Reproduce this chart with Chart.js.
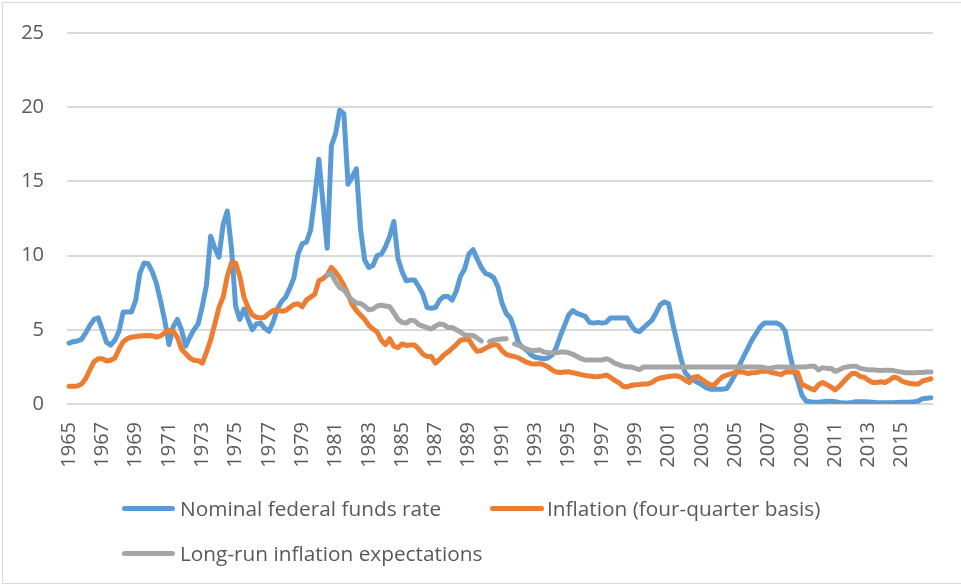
<!DOCTYPE html>
<html>
<head>
<meta charset="utf-8">
<script src="https://cdn.jsdelivr.net/npm/chart.js@4"></script>
<style>
  html, body { margin: 0; padding: 0; background: #fff; }
  #wrap { position: relative; width: 961px; height: 588px; overflow: hidden; font-family: "Open Sans", sans-serif; }
  #frame { position: absolute; left: 2px; top: 2px; width: 980px; height: 582px; border: 1.5px solid #d9d9d9; box-sizing: border-box; pointer-events: none; }
  canvas { position: absolute; left: 0; top: 0; }
  .lg { position: absolute; height: 28px; line-height: 28px; font-size: 20.8px; color: #595959; white-space: nowrap; }
  .sw { position: absolute; height: 5px; border-radius: 3px; }
</style>
</head>
<body>
<div id="wrap">
  <canvas id="c" width="961" height="588"></canvas>
  <div id="frame"></div>
</div>
<script>
const firstYear = 1965;
const lastYear = 2016;
const tickLabels = ['1965','1967','1969','1971','1973','1975','1977','1979','1981','1983','1985','1987','1989',
  '1991','1993','1995','1997','1999','2001','2003','2005','2007','2009','2011','2013','2015'];
const seriesNames = ['Nominal federal funds rate', 'Inflation (four-quarter basis)', 'Long-run inflation expectations'];
const seriesColors = ['#5b9bd5', '#ed7d31', '#a5a5a5'];

const fedFunds = [
  4.1, 4.2, 4.25, 4.35, 4.8, 5.3, 5.7, 5.8, 5.0, 4.15,
  3.97, 4.3, 4.9, 6.2, 6.2, 6.2, 7.0, 8.8, 9.5, 9.45,
  8.9, 8.1, 6.9, 5.6, 4.0, 5.2, 5.7, 5.0, 3.9, 4.5,
  5.0, 5.4, 6.6, 8.0, 11.3, 10.5, 9.9, 12.1, 13.0, 10.5,
  6.6, 5.7, 6.4, 5.7, 5.0, 5.4, 5.45, 5.1, 4.9, 5.5,
  6.4, 6.9, 7.2, 7.8, 8.5, 10.1, 10.8, 10.9, 11.7, 13.9,
  16.5, 13.5, 10.5, 17.4, 18.2, 19.8, 19.55, 14.8, 15.3, 15.85,
  11.8, 9.7, 9.2, 9.35, 10.0, 10.1, 10.6, 11.3, 12.3, 9.8,
  8.9, 8.3, 8.35, 8.35, 7.9, 7.4, 6.5, 6.45, 6.5, 7.0,
  7.25, 7.25, 7.0, 7.6, 8.6, 9.1, 10.1, 10.4, 9.8, 9.2,
  8.8, 8.7, 8.5, 7.9, 6.8, 6.1, 5.8, 5.0, 4.1, 3.8,
  3.6, 3.3, 3.15, 3.1, 3.05, 3.1, 3.3, 3.8, 4.6, 5.3,
  6.0, 6.3, 6.1, 6.0, 5.9, 5.5, 5.45, 5.5, 5.45, 5.5,
  5.8, 5.8, 5.8, 5.8, 5.8, 5.3, 4.95, 4.88, 5.15, 5.4,
  5.65, 6.15, 6.7, 6.88, 6.75, 5.4, 4.2, 3.0, 2.1, 1.8,
  1.6, 1.45, 1.3, 1.1, 1.0, 1.0, 1.0, 1.0, 1.05, 1.5,
  2.0, 2.6, 3.2, 3.75, 4.3, 4.75, 5.2, 5.45, 5.45, 5.45,
  5.45, 5.3, 4.9, 3.5, 2.3, 1.6, 0.6, 0.2, 0.15, 0.12,
  0.12, 0.15, 0.18, 0.18, 0.16, 0.1, 0.08, 0.07, 0.1, 0.15,
  0.15, 0.16, 0.14, 0.12, 0.09, 0.09, 0.08, 0.09, 0.09, 0.1,
  0.11, 0.12, 0.13, 0.16, 0.2, 0.36, 0.38, 0.42
];

const inflation = [
  1.2, 1.2, 1.22, 1.35, 1.7, 2.3, 2.85, 3.05, 3.05, 2.9,
  2.95, 3.1, 3.7, 4.2, 4.4, 4.5, 4.55, 4.58, 4.6, 4.62,
  4.6, 4.5, 4.6, 4.8, 4.95, 4.9, 4.5, 3.7, 3.4, 3.1,
  2.95, 2.92, 2.75, 3.5, 4.3, 5.4, 6.5, 7.2, 8.6, 9.5,
  9.5, 8.6, 7.2, 6.5, 6.0, 5.85, 5.8, 5.85, 6.1, 6.3,
  6.35, 6.25, 6.3, 6.5, 6.7, 6.75, 6.55, 7.0, 7.2, 7.4,
  8.3, 8.45, 8.7, 9.2, 8.9, 8.5, 8.0, 7.4, 6.7, 6.3,
  6.0, 5.7, 5.3, 5.05, 4.85, 4.3, 4.0, 4.4, 3.9, 3.8,
  4.05, 3.95, 3.97, 3.97, 3.7, 3.35, 3.2, 3.2, 2.75, 3.0,
  3.3, 3.5, 3.75, 4.0, 4.3, 4.35, 4.35, 3.9, 3.55, 3.6,
  3.75, 3.9, 4.0, 3.95, 3.6, 3.35, 3.25, 3.2, 3.1, 2.95,
  2.8, 2.72, 2.7, 2.72, 2.65, 2.5, 2.3, 2.15, 2.12, 2.15,
  2.17, 2.1, 2.05, 1.98, 1.92, 1.88, 1.85, 1.84, 1.88, 1.95,
  1.8, 1.6, 1.45, 1.2, 1.15, 1.25, 1.3, 1.32, 1.35, 1.35,
  1.45, 1.65, 1.75, 1.8, 1.86, 1.88, 1.9, 1.8, 1.6, 1.45,
  1.8, 1.85, 1.65, 1.45, 1.28, 1.3, 1.6, 1.85, 1.95, 2.05,
  2.12, 2.17, 2.15, 2.05, 2.1, 2.12, 2.18, 2.22, 2.2, 2.1,
  2.05, 1.98, 2.15, 2.15, 2.15, 2.12, 1.3, 1.2, 1.05, 0.95,
  1.3, 1.45, 1.3, 1.15, 0.95, 1.2, 1.5, 1.8, 2.05, 2.05,
  1.85, 1.8, 1.6, 1.45, 1.45, 1.5, 1.45, 1.6, 1.8, 1.75,
  1.55, 1.45, 1.38, 1.35, 1.35, 1.55, 1.62, 1.7
];

const expectations = [
  null, null, null, null, null, null, null, null, null, null,
  null, null, null, null, null, null, null, null, null, null,
  null, null, null, null, null, null, null, null, null, null,
  null, null, null, null, null, null, null, null, null, null,
  null, null, null, null, null, null, null, null, null, null,
  null, null, null, null, null, null, null, null, null, null,
  null, null, 8.7, 8.8, 8.25, 7.85, 7.7, 7.3, 7.0, 6.8,
  6.78, 6.6, 6.35, 6.4, 6.6, 6.65, 6.6, 6.55, 6.15, 5.7,
  5.5, 5.45, 5.65, 5.6, 5.35, 5.25, 5.15, 5.05, 5.25, 5.4,
  5.35, 5.15, 5.15, 5.0, 4.85, 4.65, 4.64, 4.62, 4.45, 4.25,
  null, 4.2, 4.3, 4.35, 4.38, 4.4, null, 4.05, 3.95, 3.8,
  3.7, 3.6, 3.6, 3.65, 3.5, 3.45, 3.45, 3.45, 3.5, 3.5,
  3.45, 3.35, 3.2, 3.05, 2.96, 2.96, 2.96, 2.96, 2.96, 3.05,
  2.95, 2.75, 2.65, 2.55, 2.5, 2.5, 2.4, 2.32, 2.5, 2.5,
  2.5, 2.5, 2.5, 2.5, 2.5, 2.5, 2.5, 2.5, 2.5, 2.5,
  2.5, 2.5, 2.5, 2.5, 2.5, 2.5, 2.5, 2.5, 2.5, 2.5,
  2.5, 2.5, 2.5, 2.5, 2.5, 2.5, 2.5, 2.45, 2.4, 2.45,
  2.5, 2.5, 2.5, 2.48, 2.48, 2.5, 2.5, 2.5, 2.55, 2.55,
  2.3, 2.45, 2.4, 2.4, 2.2, 2.3, 2.45, 2.5, 2.55, 2.55,
  2.4, 2.35, 2.3, 2.3, 2.28, 2.26, 2.28, 2.28, 2.25, 2.2,
  2.15, 2.1, 2.1, 2.1, 2.12, 2.12, 2.15, 2.15
];

// quarterly categories
const categories = [];
for (let y = firstYear; y <= lastYear; y++) {
  for (let q = 1; q <= 4; q++) categories.push(y + ' Q' + q);
}

const seriesData = [fedFunds, inflation, expectations];
const FONT = { family: '"Open Sans", sans-serif', size: 20 };

const chart = new Chart(document.getElementById('c'), {
  type: 'line',
  data: {
    labels: categories,
    datasets: seriesData.map((d, i) => ({
      label: seriesNames[i],
      data: d,
      borderColor: seriesColors[i],
      backgroundColor: seriesColors[i],
      borderWidth: 5,
      pointRadius: 0,
      pointHoverRadius: 0,
      tension: 0,
      spanGaps: false,
      borderCapStyle: 'round',
      borderJoinStyle: 'round',
      order: 3 - i,
      fill: false
    }))
  },
  options: {
    responsive: false,
    animation: false,
    devicePixelRatio: 1,
    layout: { padding: { left: 0, right: 28, top: 33, bottom: 0 } },
    plugins: { legend: { display: false }, tooltip: { enabled: false } },
    scales: {
      x: {
        type: 'category',
        offset: true,
        grid: { display: false, drawTicks: false },
        border: { display: false },
        ticks: {
          autoSkip: false,
          minRotation: 90,
          maxRotation: 90,
          padding: 18,
          color: '#595959',
          font: FONT,
          callback: function (value, index) {
            const lab = categories[index];
            const yr = lab.slice(0, 4);
            return (lab.endsWith('Q1') && tickLabels.includes(yr)) ? yr : '';
          }
        },
        afterFit: (s) => { s.height = 184; s.paddingLeft = 0; s.paddingRight = 0; }
      },
      y: {
        min: 0,
        max: 25,
        ticks: { stepSize: 5, padding: 23, color: '#595959', font: FONT },
        grid: { color: '#d9d9d9', lineWidth: 2, drawTicks: false },
        border: { display: false },
        afterFit: (s) => { s.width = 67; s.paddingTop = 0; s.paddingBottom = 0; }
      }
    }
  }
});

// legend (HTML, built from the series arrays)
const wrap = document.getElementById('wrap');
const legendPos = [
  { sx: 122, sw: 53, tx: 180, cy: 508 },
  { sx: 490, sw: 54, tx: 547, cy: 508 },
  { sx: 122, sw: 53, tx: 180, cy: 553 }
];
seriesNames.forEach((name, i) => {
  const p = legendPos[i];
  const sw = document.createElement('div');
  sw.className = 'sw';
  sw.style.left = p.sx + 'px';
  sw.style.width = p.sw + 'px';
  sw.style.top = (p.cy - 2.5) + 'px';
  sw.style.background = seriesColors[i];
  wrap.appendChild(sw);
  const t = document.createElement('div');
  t.className = 'lg';
  t.style.left = p.tx + 'px';
  t.style.top = (p.cy - 14) + 'px';
  t.textContent = name;
  wrap.appendChild(t);
});
</script>
</body>
</html>
